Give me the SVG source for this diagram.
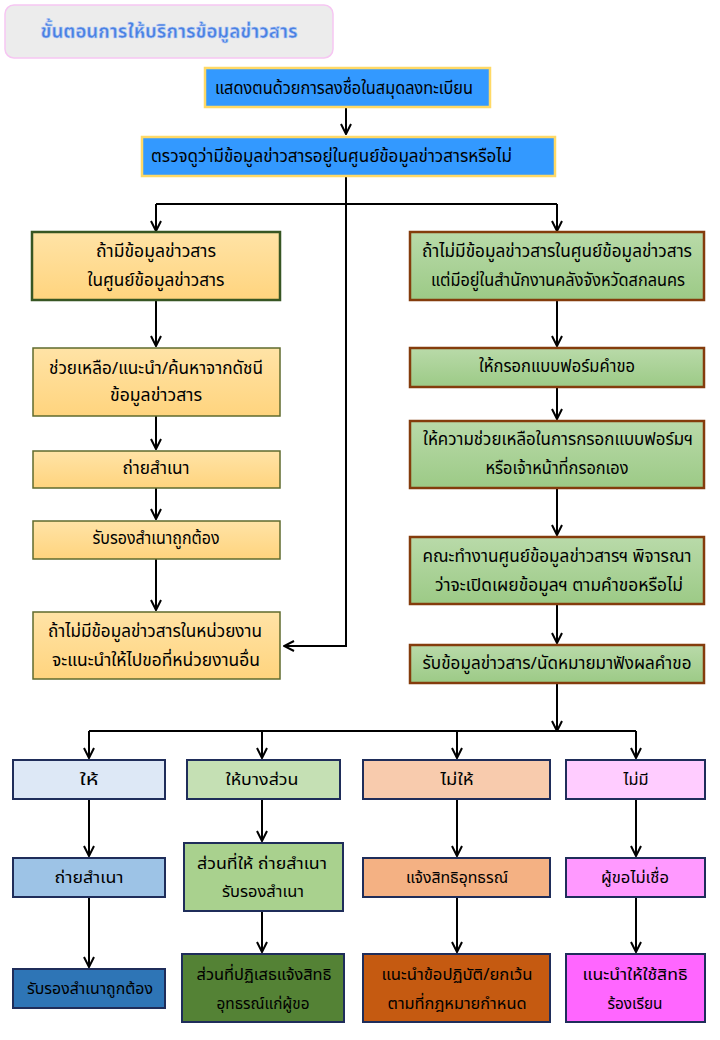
<svg xmlns="http://www.w3.org/2000/svg" width="720" height="1040" viewBox="0 0 720 1040">
<defs>
<linearGradient id="gOr" x1="0" y1="0" x2="0" y2="1"><stop offset="0" stop-color="#ffe3a6"/><stop offset="1" stop-color="#ffd47e"/></linearGradient>
<linearGradient id="gGr" x1="0" y1="0" x2="0" y2="1"><stop offset="0" stop-color="#b9daa9"/><stop offset="1" stop-color="#9cca86"/></linearGradient>
<marker id="ah" viewBox="0 0 12 12" refX="11" refY="6" markerWidth="12" markerHeight="12" markerUnits="userSpaceOnUse" orient="auto"><path d="M1,1 L11,6 L1,11" fill="none" stroke="#000" stroke-width="2"/></marker>
</defs>
<style>
text{font-family:"Noto Sans Thai","Noto Sans","DejaVu Sans",sans-serif;font-size:17px;fill:#000;text-anchor:middle;dominant-baseline:central}
.l{text-anchor:start}
.s{font-size:16px}
.title{font-size:20px;font-weight:bold;fill:#4a80e2;stroke:#b9cdf5;stroke-width:0.6}
.top{fill:#3399ff;stroke:#ffd966;stroke-width:2.5}
.lo{fill:url(#gOr);stroke:#5f6b2e;stroke-width:1.5}
.lo1{fill:url(#gOr);stroke:#375623;stroke-width:2.5}
.rg{fill:url(#gGr);stroke:#843c0c;stroke-width:2.5}
.nb{stroke:#1f2d5a;stroke-width:2}
.c line,.c path{stroke:#000;stroke-width:2;fill:none}
</style>
<g id="title"><rect x="5" y="5" width="328" height="53" rx="9" fill="#ececec" stroke="#f6c6f2" stroke-width="1.5"/><text class="title" x="169" y="32" textLength="257" lengthAdjust="spacingAndGlyphs">ขั้นตอนการให้บริการข้อมูลข่าวสาร</text></g>
<g class="c" id="connectors">
<line x1="346" y1="107" x2="346" y2="134" marker-end="url(#ah)"/>
<path d="M346,176 V646 H284" marker-end="url(#ah)"/>
<line x1="156" y1="204" x2="557" y2="204"/>
<line x1="156" y1="204" x2="156" y2="231" marker-end="url(#ah)"/>
<line x1="557" y1="204" x2="557" y2="231" marker-end="url(#ah)"/>
<line x1="156" y1="300" x2="156" y2="346" marker-end="url(#ah)"/>
<line x1="156" y1="416" x2="156" y2="449" marker-end="url(#ah)"/>
<line x1="156" y1="488" x2="156" y2="519" marker-end="url(#ah)"/>
<line x1="156" y1="559" x2="156" y2="610" marker-end="url(#ah)"/>
<line x1="557" y1="300" x2="557" y2="346" marker-end="url(#ah)"/>
<line x1="557" y1="387" x2="557" y2="419" marker-end="url(#ah)"/>
<line x1="557" y1="488" x2="557" y2="535" marker-end="url(#ah)"/>
<line x1="557" y1="604" x2="557" y2="643" marker-end="url(#ah)"/>
<line x1="557" y1="684" x2="557" y2="731" marker-end="url(#ah)"/>
<line x1="89" y1="731" x2="636" y2="731"/>
<line x1="89" y1="731" x2="89" y2="758" marker-end="url(#ah)"/>
<line x1="262" y1="731" x2="262" y2="758" marker-end="url(#ah)"/>
<line x1="457" y1="731" x2="457" y2="758" marker-end="url(#ah)"/>
<line x1="636" y1="731" x2="636" y2="758" marker-end="url(#ah)"/>
<line x1="89" y1="799" x2="89" y2="856" marker-end="url(#ah)"/>
<line x1="89" y1="897" x2="89" y2="967" marker-end="url(#ah)"/>
<line x1="262" y1="799" x2="262" y2="841" marker-end="url(#ah)"/>
<line x1="262" y1="911" x2="262" y2="952" marker-end="url(#ah)"/>
<line x1="457" y1="799" x2="457" y2="856" marker-end="url(#ah)"/>
<line x1="457" y1="897" x2="457" y2="952" marker-end="url(#ah)"/>
<line x1="636" y1="799" x2="636" y2="856" marker-end="url(#ah)"/>
<line x1="636" y1="897" x2="636" y2="952" marker-end="url(#ah)"/>
</g>
<g id="n1"><rect class="top" x="205" y="68" width="285" height="39"/><text class="l" x="215" y="89" textLength="258" lengthAdjust="spacingAndGlyphs">แสดงตนด้วยการลงชื่อในสมุดลงทะเบียน</text></g>
<g id="n2"><rect class="top" x="142" y="137" width="413" height="39"/><text class="l" x="151" y="157" textLength="361" lengthAdjust="spacingAndGlyphs">ตรวจดูว่ามีข้อมูลข่าวสารอยู่ในศูนย์ข้อมูลข่าวสารหรือไม่</text></g>
<g id="l1"><rect class="lo1" x="32" y="232" width="248" height="68"/><text x="156" y="252" textLength="120" lengthAdjust="spacingAndGlyphs">ถ้ามีข้อมูลข่าวสาร</text><text x="156" y="281" textLength="137" lengthAdjust="spacingAndGlyphs">ในศูนย์ข้อมูลข่าวสาร</text></g>
<g id="l2"><rect class="lo" x="33" y="348" width="247" height="68"/><text x="156" y="369" textLength="214" lengthAdjust="spacingAndGlyphs">ช่วยเหลือ/แนะนำ/ค้นหาจากดัชนี</text><text x="156" y="396" textLength="92" lengthAdjust="spacingAndGlyphs">ข้อมูลข่าวสาร</text></g>
<g id="l3"><rect class="lo" x="33" y="451" width="247" height="37"/><text x="156" y="469" textLength="67" lengthAdjust="spacingAndGlyphs">ถ่ายสำเนา</text></g>
<g id="l4"><rect class="lo" x="33" y="521" width="247" height="38"/><text x="156" y="539" textLength="127" lengthAdjust="spacingAndGlyphs">รับรองสำเนาถูกต้อง</text></g>
<g id="l5"><rect class="lo" x="33" y="612" width="247" height="67"/><text x="155" y="632" textLength="214" lengthAdjust="spacingAndGlyphs">ถ้าไม่มีข้อมูลข่าวสารในหน่วยงาน</text><text x="156" y="661" textLength="208" lengthAdjust="spacingAndGlyphs">จะแนะนำให้ไปขอที่หน่วยงานอื่น</text></g>
<g id="r1"><rect class="rg" x="410" y="232" width="294" height="68"/><text x="557" y="252" textLength="270" lengthAdjust="spacingAndGlyphs">ถ้าไม่มีข้อมูลข่าวสารในศูนย์ข้อมูลข่าวสาร</text><text x="558" y="281" textLength="254" lengthAdjust="spacingAndGlyphs">แต่มีอยู่ในสำนักงานคลังจังหวัดสกลนคร</text></g>
<g id="r2"><rect class="rg" x="410" y="348" width="294" height="39"/><text x="557" y="367" textLength="156" lengthAdjust="spacingAndGlyphs">ให้กรอกแบบฟอร์มคำขอ</text></g>
<g id="r3"><rect class="rg" x="410" y="421" width="294" height="67"/><text x="558" y="440" textLength="270" lengthAdjust="spacingAndGlyphs">ให้ความช่วยเหลือในการกรอกแบบฟอร์มฯ</text><text x="557" y="469" textLength="143" lengthAdjust="spacingAndGlyphs">หรือเจ้าหน้าที่กรอกเอง</text></g>
<g id="r4"><rect class="rg" x="410" y="537" width="294" height="67"/><text x="557" y="557" textLength="269" lengthAdjust="spacingAndGlyphs">คณะทำงานศูนย์ข้อมูลข่าวสารฯ  พิจารณา</text><text x="559" y="586" textLength="248" lengthAdjust="spacingAndGlyphs">ว่าจะเปิดเผยข้อมูลฯ  ตามคำขอหรือไม่</text></g>
<g id="r5"><rect class="rg" x="410" y="645" width="294" height="38"/><text x="557" y="664" textLength="269" lengthAdjust="spacingAndGlyphs">รับข้อมูลข่าวสาร/นัดหมายมาฟังผลคำขอ</text></g>
<g id="a1"><rect class="nb" x="13" y="760" width="152" height="39" fill="#dde8f6"/><text class="s" x="89" y="780" textLength="19" lengthAdjust="spacingAndGlyphs">ให้</text></g>
<g id="b1"><rect class="nb" x="187" y="760" width="153" height="39" fill="#c5e0b4"/><text class="s" x="262" y="780" textLength="73" lengthAdjust="spacingAndGlyphs">ให้บางส่วน</text></g>
<g id="c1"><rect class="nb" x="363" y="760" width="187" height="39" fill="#f8cbad"/><text class="s" x="457" y="780" textLength="33" lengthAdjust="spacingAndGlyphs">ไม่ให้</text></g>
<g id="d1"><rect class="nb" x="566" y="760" width="139" height="39" fill="#ffccff"/><text class="s" x="636" y="780" textLength="25" lengthAdjust="spacingAndGlyphs">ไม่มี</text></g>
<g id="a2"><rect class="nb" x="13" y="858" width="152" height="39" fill="#9dc3e6"/><text class="s" x="89" y="878" textLength="69" lengthAdjust="spacingAndGlyphs">ถ่ายสำเนา</text></g>
<g id="b2"><rect class="nb" x="184" y="843" width="159" height="68" fill="#a9d18e"/><text class="s" x="262" y="864" textLength="130" lengthAdjust="spacingAndGlyphs">ส่วนที่ให้ ถ่ายสำเนา</text><text class="s" x="263" y="892" textLength="82" lengthAdjust="spacingAndGlyphs">รับรองสำเนา</text></g>
<g id="c2"><rect class="nb" x="363" y="858" width="187" height="39" fill="#f4b183"/><text class="s" x="457" y="878" textLength="102" lengthAdjust="spacingAndGlyphs">แจ้งสิทธิอุทธรณ์</text></g>
<g id="d2"><rect class="nb" x="566" y="858" width="139" height="39" fill="#ff99ff"/><text class="s" x="635" y="878" textLength="68" lengthAdjust="spacingAndGlyphs">ผู้ขอไม่เชื่อ</text></g>
<g id="a3"><rect class="nb" x="13" y="969" width="152" height="39" fill="#2e75b6"/><text class="s" x="90" y="989" textLength="126" lengthAdjust="spacingAndGlyphs">รับรองสำเนาถูกต้อง</text></g>
<g id="b3"><rect class="nb" x="182" y="954" width="162" height="68" fill="#548235"/><text class="s" x="264" y="975" textLength="135" lengthAdjust="spacingAndGlyphs">ส่วนที่ปฏิเสธแจ้งสิทธิ</text><text class="s" x="263" y="1004" textLength="93" lengthAdjust="spacingAndGlyphs">อุทธรณ์แก่ผู้ขอ</text></g>
<g id="c3"><rect class="nb" x="363" y="954" width="187" height="68" fill="#c55a11"/><text class="s" x="457" y="975" textLength="151" lengthAdjust="spacingAndGlyphs">แนะนำข้อปฏิบัติ/ยกเว้น</text><text class="s" x="457" y="1004" textLength="139" lengthAdjust="spacingAndGlyphs">ตามที่กฎหมายกำหนด</text></g>
<g id="d3"><rect class="nb" x="566" y="954" width="139" height="68" fill="#ff66ff"/><text class="s" x="635" y="975" textLength="105" lengthAdjust="spacingAndGlyphs">แนะนำให้ใช้สิทธิ</text><text class="s" x="635" y="1004" textLength="55" lengthAdjust="spacingAndGlyphs">ร้องเรียน</text></g>
</svg>
